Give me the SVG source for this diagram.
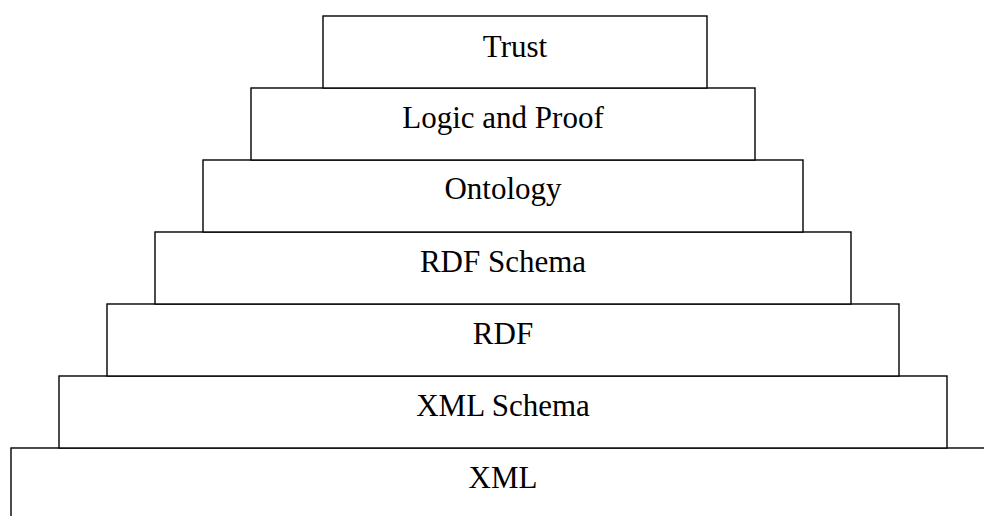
<svg xmlns="http://www.w3.org/2000/svg" width="984" height="516" viewBox="0 0 984 516">
<style>
.box{fill:#fff;stroke:#000;stroke-width:1.4}
.lbl{font-family:"Liberation Serif","Times New Roman",serif;font-size:31px;fill:#000;text-anchor:middle}
</style>
<rect width="984" height="516" fill="#fff"/>
<g id="xml"><rect class="box" x="11" y="448" width="984" height="80"/><text class="lbl" x="503" y="488">XML</text></g>
<g id="xml-schema"><rect class="box" x="59" y="376" width="888" height="72"/><text class="lbl" x="503" y="416">XML Schema</text></g>
<g id="rdf"><rect class="box" x="107" y="304" width="792" height="72"/><text class="lbl" x="503" y="344">RDF</text></g>
<g id="rdf-schema"><rect class="box" x="155" y="232" width="696" height="72"/><text class="lbl" x="503" y="272">RDF Schema</text></g>
<g id="ontology"><rect class="box" x="203" y="160" width="600" height="72"/><text class="lbl" x="503" y="199">Ontology</text></g>
<g id="logic"><rect class="box" x="251" y="88" width="504" height="72"/><text class="lbl" x="503" y="128">Logic and Proof</text></g>
<g id="trust"><rect class="box" x="323" y="16" width="384" height="72"/><text class="lbl" x="515" y="56.5">Trust</text></g>
<g id="connectors"></g>
</svg>
